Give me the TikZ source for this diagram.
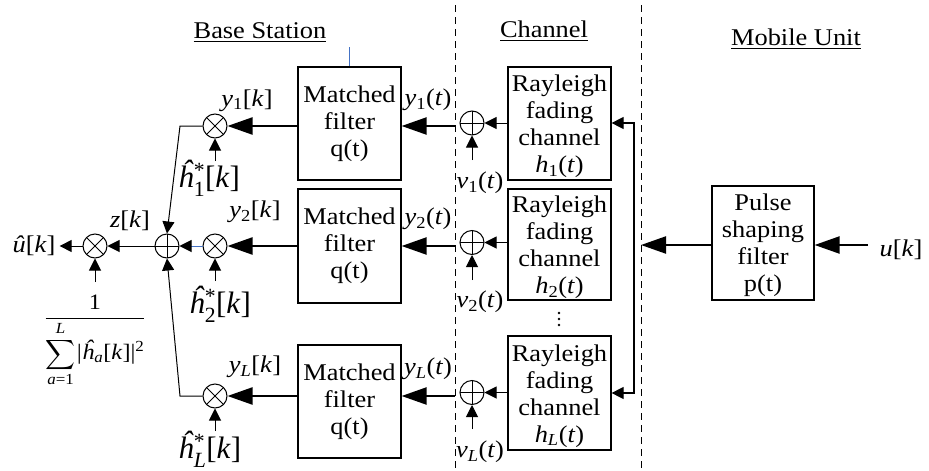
\documentclass[tikz,border=0pt]{standalone}
\usepackage{amsmath}
\usepackage{fontspec}
\setmainfont{Liberation Serif}[FakeStretch=1.1]
\newfontfamily\plainserif{Liberation Serif}
\usetikzlibrary{arrows.meta}

\definecolor{tickblue}{RGB}{68,114,196}
\newcommand\fsz[1]{\fontsize{#1}{#1}\selectfont}
% invisible strut that lowers a block's text a little
\newcommand\toppad[1]{\rule{0pt}{#1}}

\tikzset{
  blk/.style={draw, line width=1.2pt, minimum width=103pt, align=center,
    inner sep=0pt, font=\fontsize{24}{27}\selectfont},
  muln/.style={circle, draw, line width=1pt, minimum size=24pt, inner sep=0pt,
    path picture={\draw[line width=1pt]
      (path picture bounding box.north west) -- (path picture bounding box.south east)
      (path picture bounding box.north east) -- (path picture bounding box.south west);}},
  addn/.style={circle, draw, line width=1pt, minimum size=24pt, inner sep=0pt,
    path picture={\draw[line width=1pt]
      (path picture bounding box.north) -- (path picture bounding box.south)
      (path picture bounding box.west) -- (path picture bounding box.east);}},
  lab/.style={inner sep=0pt, font=\fsz{24}},
  hlab/.style={inner sep=0pt, anchor=base west, font=\plainserif\fsz{31}},
  ttl/.style={inner sep=0pt, font=\fsz{24}},
  bigarr/.style={line width=2.2pt, -{Triangle[length=25pt,width=17pt]}},
  smarr/.style={line width=1pt, -{Triangle[length=12pt,width=12pt]}},
  sep/.style={line width=0.9pt, dash pattern=on 7pt off 5pt},
}

\begin{document}
\begin{tikzpicture}[x=1pt,y=-1pt]
\useasboundingbox (0,0) rectangle (929,471);

% section titles
\node[ttl, anchor=base] (tbs) at (260,38) {\underline{Base Station}};
\node[ttl, anchor=base] (tch) at (544,37) {\underline{Channel}};
\node[ttl, anchor=base] (tmu) at (796,45) {\underline{Mobile Unit}};

% section separators
\coordinate (s1t) at (455,5);  \coordinate (s1b) at (455,471);
\coordinate (s2t) at (641,5);  \coordinate (s2b) at (641,471);
\draw[sep] (s1t) -- (s1b);
\draw[sep] (s2t) -- (s2b);

% matched filters
\node[blk, minimum height=113pt] (mf1) at (349.5,123.5) {Matched\\filter\\q(t)};
\node[blk, minimum height=114pt] (mf2) at (349.5,246) {Matched\\filter\\q(t)};
\node[blk, minimum height=113pt] (mfL) at (349.5,401.5) {Matched\\filter\\q(t)};

% fading channels
\node[blk, minimum height=113pt] (ry1) at (559.5,123.5)
  {\toppad{22.6pt}Rayleigh\\fading\\channel\\\textit{h}\textsubscript{1}(\textit{t})};
\node[blk, minimum height=111pt] (ry2) at (559.5,244.5)
  {\toppad{22.6pt}Rayleigh\\fading\\channel\\\textit{h}\textsubscript{2}(\textit{t})};
\node[blk, minimum height=114pt] (ryL) at (559.5,393)
  {\toppad{22.6pt}Rayleigh\\fading\\channel\\\textit{h}\textsubscript{\textit{L}}(\textit{t})};

% transmitter pulse shaping
\node[blk, minimum width=102pt, minimum height=114pt] (ps) at (763,243)
  {\toppad{20.5pt}Pulse\\shaping\\filter\\p(t)};

% noise adders
\node[addn] (a1) at (472,123) {};
\node[addn] (a2) at (472,242.5) {};
\node[addn] (aL) at (472,392.5) {};

% combiner
\node[muln] (m1) at (215,126) {};
\node[muln] (m2) at (215,246) {};
\node[muln] (mL) at (215,396) {};
\node[addn] (sum) at (167,246) {};
\node[muln] (mF) at (95,246) {};

% dots between branches
\fill (559,313) circle (1.4pt) (559,319) circle (1.4pt) (559,325) circle (1.4pt);

% small stub above the first matched filter
\coordinate (bt) at (349.5,47);
\draw[draw=tickblue, line width=0.8pt] (bt) -- (mf1.north);

% channel outputs into adders
\draw[smarr] (ry1.west |- a1) -- (a1.east);
\draw[smarr] (ry2.west |- a2) -- (a2.east);
\draw[smarr] (ryL.west |- aL) -- (aL.east);

% received signals into matched filters
\coordinate (o1) at (455,126);
\coordinate (o2) at (455,246);
\coordinate (oL) at (455,396);
\draw[bigarr] (o1) -- (mf1.east |- o1);
\draw[bigarr] (o2) -- (mf2.east |- o2);
\draw[bigarr] (oL) -- (mfL.east |- oL);

% matched filter outputs into multipliers
\draw[bigarr] (mf1.west |- m1) -- (m1.east);
\draw[bigarr] (mf2.west |- m2) -- (m2.east);
\draw[bigarr] (mfL.west |- mL) -- (mL.east);

% noise inputs
\coordinate (n1) at (472,160);
\coordinate (n2) at (472,280);
\coordinate (nL) at (472,429);
\draw[smarr] (n1) -- (a1.south);
\draw[smarr] (n2) -- (a2.south);
\draw[smarr] (nL) -- (aL.south);

% weight inputs
\coordinate (w1) at (215,161);
\coordinate (w2) at (215,281);
\coordinate (wL) at (215,431);
\coordinate (wF) at (95,282);
\draw[smarr] (w1) -- (m1.south);
\draw[smarr] (w2) -- (m2.south);
\draw[smarr] (wL) -- (mL.south);
\draw[smarr] (wF) -- (mF.south);

% branches into the summer
\coordinate (k1) at (180,126);
\coordinate (kL) at (180,396);
\draw[smarr] (m1.west) -- (k1) -- (sum.north);
\draw[smarr] (mL.west) -- (kL) -- (sum.south);
\draw[line width=1pt, draw=tickblue, -{Triangle[length=12pt,width=12pt,color=black]}] (m2.west) -- (sum.east);
\draw[smarr] (sum.west) -- (mF.east);

% channel feed from the transmitter
\coordinate (ft) at (634,123);
\coordinate (fb) at (634,393);
\draw[line width=1.2pt, {Triangle[length=12pt,width=12pt]}-{Triangle[length=12pt,width=12pt]}]
  (ry1.east |- ft) -- (ft) -- (fb) -- (ryL.east |- fb);
\coordinate (pin) at (641,245);
\draw[bigarr] (ps.west |- pin) -- (pin);

% transmitter input
\node[lab] (u) at (901,250) {\textit{u}[\textit{k}]};
\coordinate (us) at (868,245);
\draw[bigarr] (us) -- (ps.east |- us);

% output
\node[lab] (uh) at (34,246) {\textit{û}[\textit{k}]};
\draw[smarr, shorten >=4pt] (mF.west) -- (uh.east);

% signal labels
\node[lab] (y1k) at (247,100.5) {\textit{y}\textsubscript{1}[\textit{k}]};
\node[lab] (y2k) at (255,212) {\textit{y}\textsubscript{2}[\textit{k}]};
\node[lab] (yLk) at (255,367) {\textit{y}\textsubscript{\textit{L}}[\textit{k}]};
\node[hlab] (h1) at (178,187) {\textit{ĥ}$^{\text{*}}_{\text{1}}$[\textit{k}]};
\node[hlab] (h2) at (189,313) {\textit{ĥ}$^{\text{*}}_{\text{2}}$[\textit{k}]};
\node[hlab] (hL) at (178,458) {\textit{ĥ}$^{\text{*}}_{\text{\textit{L}}}$[\textit{k}]};
\node[lab] (y1t) at (428,100) {\textit{y}\textsubscript{1}(\textit{t})};
\node[lab] (y2t) at (428,219) {\textit{y}\textsubscript{2}(\textit{t})};
\node[lab] (yLt) at (428,369) {\textit{y}\textsubscript{\textit{L}}(\textit{t})};
\node[lab] (v1) at (480,183) {\textit{v}\textsubscript{1}(\textit{t})};
\node[lab] (v2) at (480,302) {\textit{v}\textsubscript{2}(\textit{t})};
\node[lab] (vL) at (480,452) {\textit{v}\textsubscript{\textit{L}}(\textit{t})};
\node[lab] (zk) at (130,221) {\textit{z}[\textit{k}]};

% normalising gain
\node[inner sep=0pt, font=\fsz{22}, anchor=base] (gain) at (95,324)
  {$\dfrac{\text{1}}{\displaystyle\sum_{\text{\textit{a}=1}}^{\text{\textit{L}}}\!\text{\textit{|ĥ}\textsubscript{\textit{a}}[\textit{k}]|\textsuperscript{2}}}$};
\end{tikzpicture}
\end{document}
